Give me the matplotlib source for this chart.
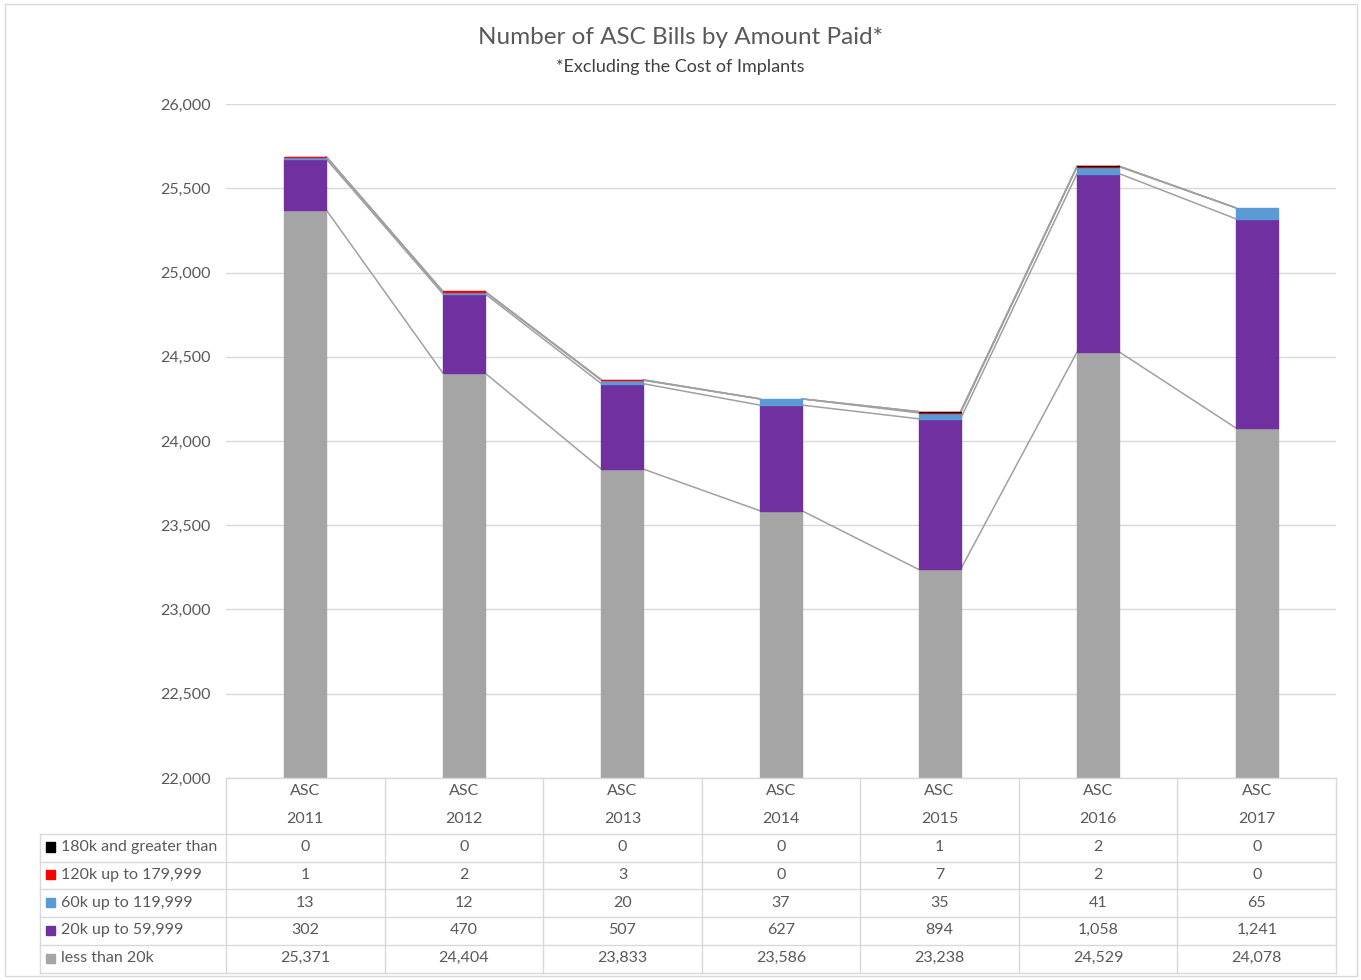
import numpy as np
import matplotlib
matplotlib.use("Agg")
import matplotlib.pyplot as plt
from matplotlib.patches import Rectangle

plt.rcParams['font.family'] = ['Lato', 'DejaVu Sans']

# ---------------------------------------------------------------------------
# Data (read from the chart's data table)
# ---------------------------------------------------------------------------
years = ['2011', '2012', '2013', '2014', '2015', '2016', '2017']
lt_20k = [25371, 24404, 23833, 23586, 23238, 24529, 24078]
k20_60 = [302, 470, 507, 627, 894, 1058, 1241]
k60_120 = [13, 12, 20, 37, 35, 41, 65]
k120_180 = [1, 2, 3, 0, 7, 2, 0]
k180_up = [0, 0, 0, 0, 1, 2, 0]

series_names = ['less than 20k', '20k up to 59,999', '60k up to 119,999',
                '120k up to 179,999', '180k and greater than']
series_vals = [lt_20k, k20_60, k60_120, k120_180, k180_up]
colors = ['#a5a5a5', '#7030a0', '#5b9bd5', '#ff0000', '#000000']

TXT = '#595959'
GRID = '#d9d9d9'
FS = 11.5
W, H = 1361, 980


def px(l, t, r, b):
    """pixel box -> figure fraction rect"""
    return [l / W, 1 - b / H, (r - l) / W, (b - t) / H]


fig = plt.figure(figsize=(W / 100, H / 100), dpi=100)
fig.patches.append(Rectangle((5 / W, 4 / H), 1352 / W, 972 / H,
                             transform=fig.transFigure, fill=False,
                             edgecolor=GRID, linewidth=1))

ax = fig.add_axes(px(226, 104, 1336, 778))
x = np.arange(len(years))
bw = 0.265

# stacked bars (edge of same colour so 1-2 bill slices still show)
bottom = np.zeros(len(years))
levels = []
for vals, c in zip(series_vals, colors):
    v = np.array(vals, dtype=float)
    lw = [1.0 if val > 0 else 0 for val in vals]
    ax.bar(x, v, bw, bottom=bottom, color=c, edgecolor=c, linewidth=lw,
           zorder=3)
    bottom = bottom + v
    levels.append(bottom.copy())

# series lines between bars
for lev in levels:
    for i in range(len(years) - 1):
        ax.plot([i + bw / 2, i + 1 - bw / 2], [lev[i], lev[i + 1]],
                color='#a0a0a0', linewidth=1.1, zorder=2)

ax.set_xlim(-0.5, len(years) - 0.5)
ax.set_ylim(22000, 26000)
ax.set_yticks(np.arange(22000, 26001, 500))
ax.set_yticklabels([f'{t:,}' for t in range(22000, 26001, 500)])
ax.yaxis.grid(True, color=GRID, linewidth=1, zorder=0)
ax.set_axisbelow(True)
ax.tick_params(axis='y', length=0, pad=11, labelsize=FS, labelcolor=TXT)
ax.tick_params(axis='x', length=0, labelbottom=False)
for s in ax.spines.values():
    s.set_visible(False)

fig.text(0.5, 1 - 38 / H, 'Number of ASC Bills by Amount Paid*',
         ha='center', va='center', fontsize=17.5, color=TXT)
fig.text(0.5, 1 - 67 / H, '*Excluding the Cost of Implants',
         ha='center', va='center', fontsize=13, color='#404040')

# ---------------------------------------------------------------------------
# data table underneath
# ---------------------------------------------------------------------------
tab = fig.add_axes(px(40, 778, 1336, 973))
lab_w = 186 / (1110 / 7)
x0 = -0.5 - lab_w
tab.set_xlim(x0, len(years) - 0.5)
tab.set_ylim(7, 0)
tab.axis('off')

lk = dict(color=GRID, linewidth=1, clip_on=False)
tab.plot([-0.5, len(years) - 0.5], [0, 0], **lk)
for r in range(2, 8):
    tab.plot([x0, len(years) - 0.5], [r, r], **lk)
for j in range(len(years) + 1):
    tab.plot([-0.5 + j, -0.5 + j], [0, 7], **lk)
tab.plot([x0, x0], [2, 7], **lk)

for i, yr in enumerate(years):
    tab.text(i, 0.47, 'ASC', ha='center', va='center', fontsize=FS, color=TXT)
    tab.text(i, 1.47, yr, ha='center', va='center', fontsize=FS, color=TXT)

rows = list(zip(series_names, series_vals, colors))[::-1]
for r, (name, vals, c) in enumerate(rows):
    yc = 2.47 + r
    tab.add_patch(Rectangle((x0 + 6 / 158.6, yc - 0.17), 9 / 158.6, 0.34,
                            color=c, clip_on=False))
    tab.text(x0 + 21 / 158.6, yc, name, ha='left', va='center',
             fontsize=FS, color=TXT)
    for i, v in enumerate(vals):
        tab.text(i, yc, f'{v:,}', ha='center', va='center', fontsize=FS,
                 color=TXT)

fig.savefig('out.png', dpi=100)
